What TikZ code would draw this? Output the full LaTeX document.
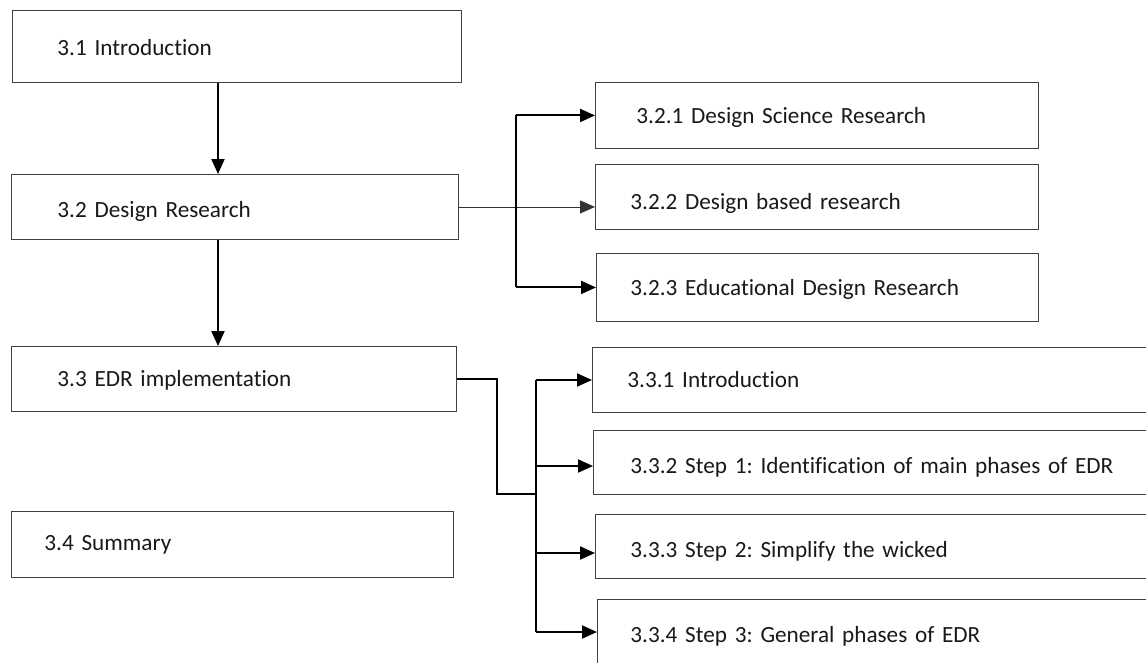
\documentclass[tikz,border=0pt]{standalone}
\usepackage{fontspec}
\setmainfont{Carlito}[Ligatures=NoCommon, WordSpace=0.75]
\usetikzlibrary{arrows.meta,calc}
\frenchspacing
\tikzset{
  secbox/.style={draw=black!75, line width=0.9pt, rectangle, anchor=north west,
    align=left, font=\fontsize{23.2}{28}\selectfont, text=black!90},
  link/.style={line width=2pt, black},
  thinlink/.style={line width=0.8pt, black!80},
  tip/.style={-{Triangle[length=15pt,width=13pt]}},
}
% \mybox{name}{x}{y}{width}{height}{indent}{drop}{text}
\newcommand{\mybox}[8]{%
  \pgfmathsetmacro{\tw}{#4-2*#6}%
  \node[secbox, minimum width=#4pt, minimum height=#5pt, inner xsep=#6pt,
        inner ysep=0pt, text width=\tw pt] (#1) at (#2,#3)
        {\raisebox{-#7pt}[\height][\depth]{#8}};}
\begin{document}
\begin{tikzpicture}[x=1pt,y=-1pt]
\useasboundingbox (0,0) rectangle (1146,662);
\clip (0,0) rectangle (1146,662);
\fill[white] (0,0) rectangle (1146,662);

% main chain
\mybox{i31}{12}{10}{449}{72}{45}{1}{3.1 Introduction}
\mybox{d32}{11}{174}{447}{65}{46}{4}{3.2 Design Research}
\mybox{e33}{11}{346}{445}{65}{46}{1}{3.3 EDR implementation}
\mybox{s34}{11}{511}{442}{66}{33}{0.5}{3.4 Summary}

% design research branches
\mybox{d321}{595}{82}{443}{66}{41}{1.5}{3.2.1 Design Science Research}
\mybox{d322}{595}{164}{443}{65}{35}{6}{3.2.2 Design based research}
\mybox{d323}{596}{253}{442}{68}{34}{1.5}{3.2.3 Educational Design Research}

% EDR implementation steps
\mybox{e331}{592}{347}{600}{65}{35}{0}{3.3.1 Introduction}
\mybox{e332}{593}{430}{600}{64}{37}{5}{3.3.2 Step 1: Identification of main phases of EDR}
\mybox{e333}{595}{514}{600}{64}{35}{4.5}{3.3.3 Step 2: Simplify the wicked}
\mybox{e334}{597}{599}{600}{72}{33}{1}{3.3.4 Step 3: General phases of EDR}

% helper columns
\coordinate (cmain) at (218,0);
\coordinate (cdr) at (516,0);
\coordinate (celb) at (497,0);
\coordinate (cedr) at (536,0);

% vertical chain
\draw[link,tip] (i31.south -| cmain) -- (d32.north -| cmain);
\draw[link,tip] (d32.south -| cmain) -- (e33.north -| cmain);

% 3.2 fan-out
\draw[thinlink,tip] (d32.east) -- (d322.west |- d32.east);
\draw[link] (cdr |- d321.west) -- (cdr |- d323.west);
\draw[link,tip] (cdr |- d321.west) -- (d321.west);
\draw[link,tip] (cdr |- d323.west) -- (d323.west);

% 3.3 fan-out
\coordinate (j1) at (536,380);
\coordinate (j2) at (536,466);
\coordinate (j3) at (536,553);
\coordinate (j4) at (536,632);
\draw[line width=2.4pt] (e33.east) -- (celb |- e33.east) -- (497,494) -- (536,494);
\draw[link] (j1) -- (j4);
\draw[link,tip] (j1) -- (e331.west |- j1);
\draw[link,tip] (j2) -- (e332.west |- j2);
\draw[link,tip] (j3) -- (e333.west |- j3);
\draw[link,tip] (j4) -- (e334.west |- j4);
\end{tikzpicture}
\end{document}
